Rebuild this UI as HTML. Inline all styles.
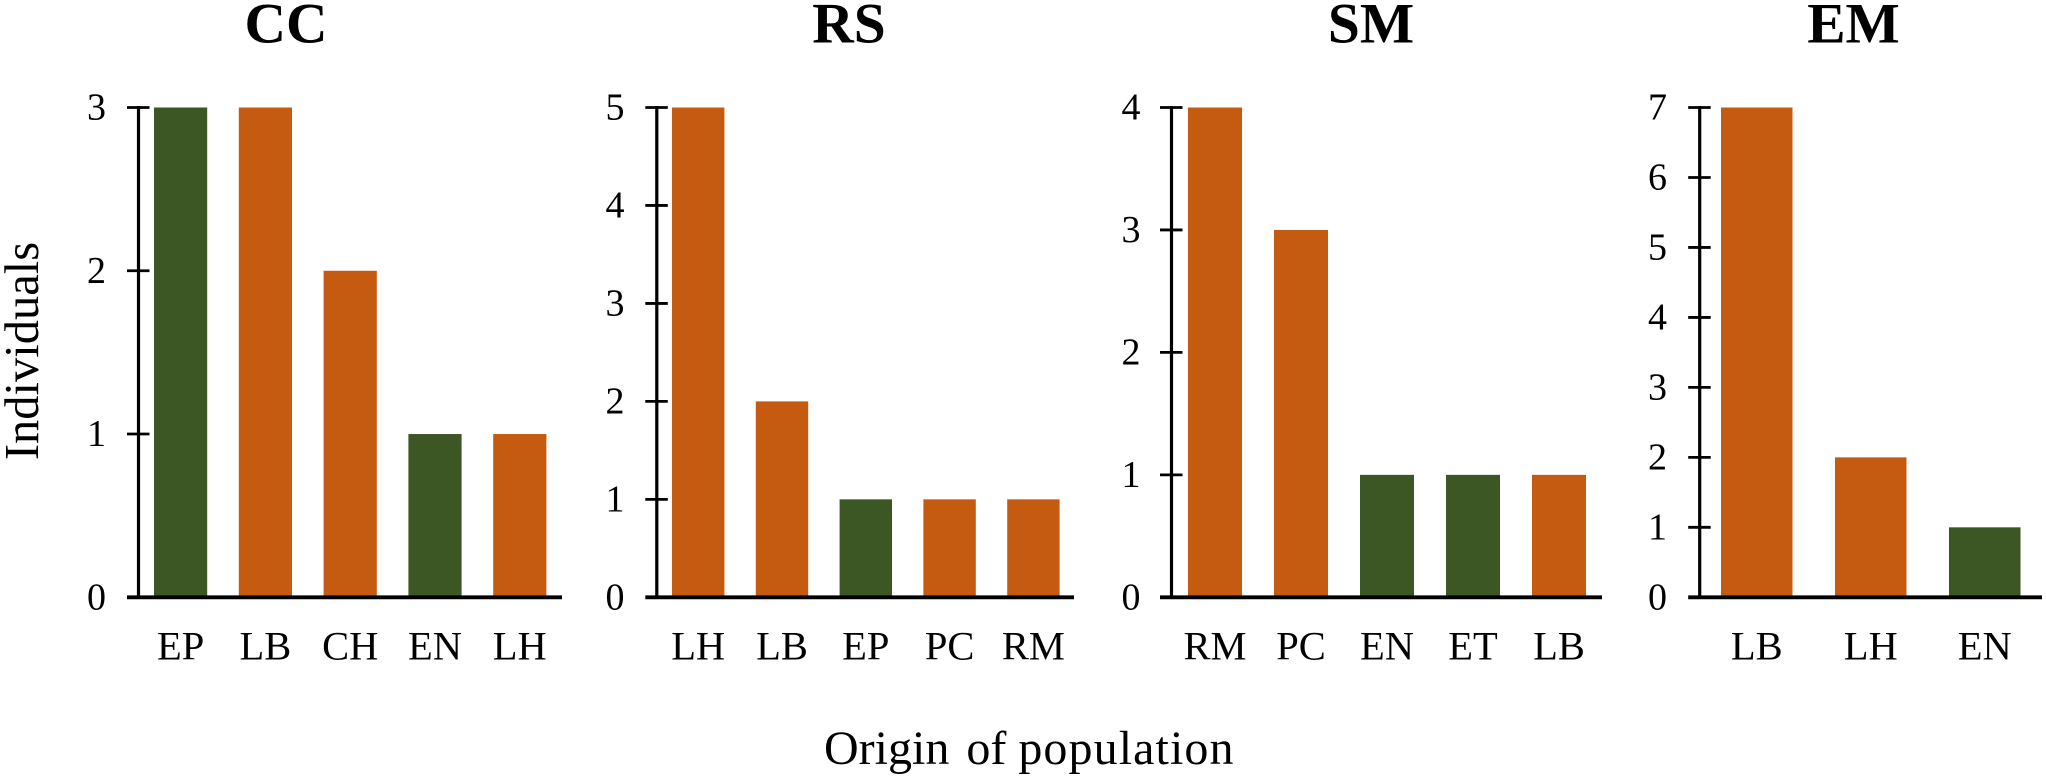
<!DOCTYPE html>
<html lang="en">
<head>
<meta charset="utf-8">
<title>Individuals by origin of population</title>
<style>
  html, body { margin: 0; padding: 0; background: #fff; }
  svg { display: block; }
  text { font-family: "Liberation Serif", "Times New Roman", serif; fill: #000; }
</style>
</head>
<body>
<svg id="chart" xmlns="http://www.w3.org/2000/svg" width="2046" height="778" viewBox="0 0 2046 778">
  <rect width="2046" height="778" fill="#ffffff"/>
  <text transform="translate(38 351) rotate(-90)" text-anchor="middle" font-size="48.5">Individuals</text>
  <text x="824" y="764" font-size="48">Origin <tspan dx="5">of</tspan> <tspan letter-spacing="1.1">population</tspan></text>
</svg>
<script>
// Chart data
const ccCategories = ['EP', 'LB', 'CH', 'EN', 'LH'];
const ccValues = [3, 3, 2, 1, 1];
const ccGroups = ['green', 'orange', 'orange', 'green', 'orange'];
const ccTicks = [0, 1, 2, 3];

const rsCategories = ['LH', 'LB', 'EP', 'PC', 'RM'];
const rsValues = [5, 2, 1, 1, 1];
const rsGroups = ['orange', 'orange', 'green', 'orange', 'orange'];
const rsTicks = [0, 1, 2, 3, 4, 5];

const smCategories = ['RM', 'PC', 'EN', 'ET', 'LB'];
const smValues = [4, 3, 1, 1, 1];
const smGroups = ['orange', 'orange', 'green', 'green', 'orange'];
const smTicks = [0, 1, 2, 3, 4];

const emCategories = ['LB', 'LH', 'EN'];
const emValues = [7, 2, 1];
const emGroups = ['orange', 'orange', 'green'];
const emTicks = [0, 1, 2, 3, 4, 5, 6, 7];

const groupColors = { green: '#3c5723', orange: '#c45b11' };

// Layout of each panel (pixels, separate from data)
const panels = [
  { key: 'cc', title: 'CC', titleX: 286, axisX: 138.5, labelX: 96.5, endX: 562, firstBar: 154, step: 84.8, barW: 53.2,
    categories: ccCategories, values: ccValues, groups: ccGroups, ticks: ccTicks },
  { key: 'rs', title: 'RS', titleX: 849, axisX: 656.8, labelX: 615, endX: 1074, firstBar: 672, step: 83.8, barW: 52.4,
    categories: rsCategories, values: rsValues, groups: rsGroups, ticks: rsTicks },
  { key: 'sm', title: 'SM', titleX: 1371, axisX: 1171.5, labelX: 1131, endX: 1602, firstBar: 1188, step: 86, barW: 54,
    categories: smCategories, values: smValues, groups: smGroups, ticks: smTicks },
  { key: 'em', title: 'EM', titleX: 1853.5, axisX: 1699.7, labelX: 1657.5, endX: 2042, firstBar: 1721, step: 114, barW: 71.5,
    categories: emCategories, values: emValues, groups: emGroups, ticks: emTicks }
];

const NS = 'http://www.w3.org/2000/svg';
const BASE_Y = 597.3;
const TOP_Y = 107.5;
const svg = document.getElementById('chart');

function make(tag, attrs, parent) {
  const el = document.createElementNS(NS, tag);
  for (const k in attrs) el.setAttribute(k, attrs[k]);
  parent.appendChild(el);
  return el;
}

function yScale(panel, v) {
  const max = Math.max.apply(null, panel.ticks);
  return BASE_Y - (v / max) * (BASE_Y - TOP_Y);
}

function xScale(panel, i) {
  return panel.firstBar + i * panel.step;
}

panels.forEach(function (p) {
  const g = make('g', {}, svg);
  
  

  const title = make('text', { x: p.titleX, y: 42.5, 'text-anchor': 'middle', 'font-size': 57.5, 'font-weight': 'bold' }, g);
  
  
  title.textContent = p.title;

  p.values.forEach(function (v, i) {
    const top = yScale(p, v);
    const bar = make('rect', {
      x: xScale(p, i), y: top, width: p.barW, height: BASE_Y - top,
      fill: groupColors[p.groups[i]]
    }, g);
    
    

    const label = make('text', {
      x: xScale(p, i) + p.barW / 2, y: 659.5, 'text-anchor': 'middle', 'font-size': 40.5
    }, g);
    
    
    label.textContent = p.categories[i];
  });

  const yAxis = make('line', { x1: p.axisX, x2: p.axisX, y1: TOP_Y - 1.5, y2: BASE_Y, stroke: '#000', 'stroke-width': 3.2 }, g);
  
  

  const xAxis = make('line', { x1: p.axisX - 11.5, x2: p.endX, y1: BASE_Y, y2: BASE_Y, stroke: '#000', 'stroke-width': 3.8 }, g);
  
  

  p.ticks.forEach(function (t) {
    const y = yScale(p, t);
    if (t !== 0) {
      const tick = make('line', { x1: p.axisX - 11.5, x2: p.axisX + 11, y1: y, y2: y, stroke: '#000', 'stroke-width': 2.8 }, g);
      
      
    }
    const lab = make('text', { x: p.labelX, y: y + 12, 'text-anchor': 'middle', 'font-size': 38 }, g);
    
    
    lab.textContent = t;
  });
});
</script>
</body>
</html>
